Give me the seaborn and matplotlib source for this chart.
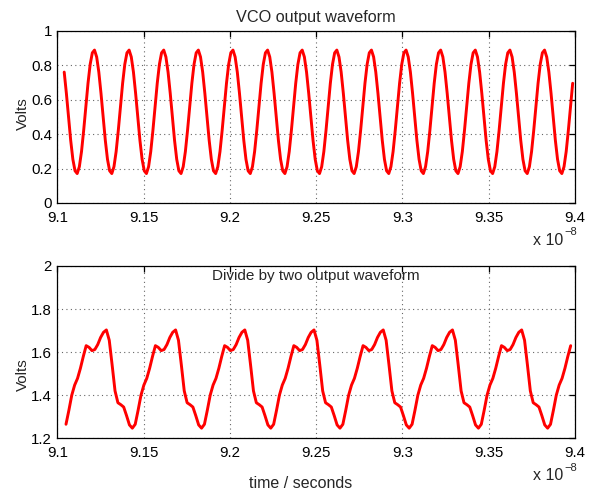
import numpy as np
import pandas as pd
import matplotlib
matplotlib.use("Agg")
import matplotlib.pyplot as plt
from matplotlib.ticker import FuncFormatter
import seaborn as sns

# Time axis is in units of 1e-8 s; both traces are uniformly sampled
vco_t0, vco_dt = 9.1039, 0.0012544
vco_volts = [
    0.761, 0.638, 0.499, 0.364, 0.254, 0.187, 0.171, 0.211, 0.299, 0.422, 0.561, 0.696, 0.806, 0.873, 0.889, 0.849,
    0.761, 0.638, 0.499, 0.364, 0.254, 0.187, 0.171, 0.211, 0.299, 0.422, 0.561, 0.696, 0.806, 0.873, 0.889, 0.849,
    0.761, 0.638, 0.499, 0.364, 0.254, 0.187, 0.171, 0.211, 0.299, 0.422, 0.561, 0.696, 0.806, 0.873, 0.889, 0.849,
    0.761, 0.638, 0.499, 0.364, 0.254, 0.187, 0.171, 0.211, 0.299, 0.422, 0.561, 0.696, 0.806, 0.873, 0.889, 0.849,
    0.761, 0.638, 0.499, 0.364, 0.254, 0.187, 0.171, 0.211, 0.299, 0.422, 0.561, 0.696, 0.806, 0.873, 0.889, 0.849,
    0.761, 0.638, 0.499, 0.364, 0.254, 0.187, 0.171, 0.211, 0.299, 0.422, 0.561, 0.696, 0.806, 0.873, 0.889, 0.849,
    0.761, 0.638, 0.499, 0.364, 0.254, 0.187, 0.171, 0.211, 0.299, 0.422, 0.561, 0.696, 0.806, 0.873, 0.889, 0.849,
    0.761, 0.638, 0.499, 0.364, 0.254, 0.187, 0.171, 0.211, 0.299, 0.422, 0.561, 0.696, 0.806, 0.873, 0.889, 0.849,
    0.761, 0.638, 0.499, 0.364, 0.254, 0.187, 0.171, 0.211, 0.299, 0.422, 0.561, 0.696, 0.806, 0.873, 0.889, 0.849,
    0.761, 0.638, 0.499, 0.364, 0.254, 0.187, 0.171, 0.211, 0.299, 0.422, 0.561, 0.696, 0.806, 0.873, 0.889, 0.849,
    0.761, 0.638, 0.499, 0.364, 0.254, 0.187, 0.171, 0.211, 0.299, 0.422, 0.561, 0.696, 0.806, 0.873, 0.889, 0.849,
    0.761, 0.638, 0.499, 0.364, 0.254, 0.187, 0.171, 0.211, 0.299, 0.422, 0.561, 0.696, 0.806, 0.873, 0.889, 0.849,
    0.761, 0.638, 0.499, 0.364, 0.254, 0.187, 0.171, 0.211, 0.299, 0.422, 0.561, 0.696, 0.806, 0.873, 0.889, 0.849,
    0.761, 0.638, 0.499, 0.364, 0.254, 0.187, 0.171, 0.211, 0.299, 0.422, 0.561, 0.696, 0.806, 0.873, 0.889, 0.849,
    0.761, 0.638, 0.499, 0.364, 0.254, 0.187, 0.171, 0.211, 0.299, 0.422, 0.561, 0.696,
]

div_t0, div_dt = 9.10494, 0.001672
div_volts = [
    1.265, 1.330, 1.400, 1.447, 1.478, 1.525, 1.580, 1.630, 1.622, 1.607, 1.612, 1.635,
    1.668, 1.692, 1.703, 1.655, 1.540, 1.420, 1.365, 1.356, 1.345, 1.305, 1.262,
    1.247, 1.265, 1.330, 1.400, 1.447, 1.478, 1.525, 1.580, 1.630, 1.622, 1.607, 1.612,
    1.635, 1.668, 1.692, 1.703, 1.655, 1.540, 1.420, 1.365, 1.356, 1.345, 1.305, 1.262,
    1.247, 1.265, 1.330, 1.400, 1.447, 1.478, 1.525, 1.580, 1.630, 1.622, 1.607, 1.612,
    1.635, 1.668, 1.692, 1.703, 1.655, 1.540, 1.420, 1.365, 1.356, 1.345, 1.305, 1.262,
    1.247, 1.265, 1.330, 1.400, 1.447, 1.478, 1.525, 1.580, 1.630, 1.622, 1.607, 1.612,
    1.635, 1.668, 1.692, 1.703, 1.655, 1.540, 1.420, 1.365, 1.356, 1.345, 1.305, 1.262,
    1.247, 1.265, 1.330, 1.400, 1.447, 1.478, 1.525, 1.580, 1.630, 1.622, 1.607, 1.612,
    1.635, 1.668, 1.692, 1.703, 1.655, 1.540, 1.420, 1.365, 1.356, 1.345, 1.305, 1.262,
    1.247, 1.265, 1.330, 1.400, 1.447, 1.478, 1.525, 1.580, 1.630, 1.622, 1.607, 1.612,
    1.635, 1.668, 1.692, 1.703, 1.655, 1.540, 1.420, 1.365, 1.356, 1.345, 1.305, 1.262,
    1.247, 1.265, 1.330, 1.400, 1.447, 1.478, 1.525, 1.580, 1.630, 1.622, 1.607, 1.612,
    1.635, 1.668, 1.692, 1.703, 1.655, 1.540, 1.420, 1.365, 1.356, 1.345, 1.305, 1.262,
    1.247, 1.265, 1.330, 1.400, 1.447, 1.478, 1.525, 1.580, 1.630,
]

x_ticks = [9.1, 9.15, 9.2, 9.25, 9.3, 9.35, 9.4]
vco_yticks = [0, 0.2, 0.4, 0.6, 0.8, 1]
div_yticks = [1.2, 1.4, 1.6, 1.8, 2]

vco = pd.DataFrame({"t": vco_t0 + vco_dt * np.arange(len(vco_volts)), "v": vco_volts})
div = pd.DataFrame({"t": div_t0 + div_dt * np.arange(len(div_volts)), "v": div_volts})

sns.set_theme(style="white")
plt.rcParams["font.family"] = ["Liberation Sans", "DejaVu Sans"]
plt.rcParams["axes.edgecolor"] = "black"
plt.rcParams["axes.linewidth"] = 0.9

fig = plt.figure(figsize=(5.95, 4.94), dpi=100)
ax1 = fig.add_axes([0.0966, 0.5891, 0.8697, 0.3482])
ax2 = fig.add_axes([0.0966, 0.1128, 0.8697, 0.3488])

fmt = FuncFormatter(lambda v, p: f"{v:g}")

def style(ax, yticks):
    ax.set_xlim(9.1, 9.4)
    ax.set_ylim(yticks[0], yticks[-1])
    ax.set_xticks(x_ticks)
    ax.set_yticks(yticks)
    ax.xaxis.set_major_formatter(fmt)
    ax.yaxis.set_major_formatter(fmt)
    ax.grid(True, linestyle=(0, (1, 3)), color="0.4", linewidth=0.8)
    ax.tick_params(direction="in", length=4, width=0.9, top=True, right=True,
                   labelsize=10.8, colors="black", pad=4)
    ax.tick_params(axis="x", pad=5.5)
    ax.set_xlabel("")
    ax.set_ylabel("")
    for s in ax.spines.values():
        s.set_visible(True)
        s.set_color("black")

for ax, d, yt in [(ax1, vco, vco_yticks), (ax2, div, div_yticks)]:
    sns.lineplot(data=d, x="t", y="v", ax=ax, color="#ff0000", linewidth=2.1,
                 estimator=None, sort=False)
    style(ax, yt)

ax1.text(0.5, 1.054, "VCO output waveform", transform=ax1.transAxes,
         ha="center", va="baseline", fontsize=11.7)
ax2.text(0.5, 0.919, "Divide by two output waveform", transform=ax2.transAxes,
         ha="center", va="baseline", fontsize=11)

for ax, yc in ((ax1, 0.520), (ax2, 0.367)):
    ax.text(-0.0676, yc, "Volts", transform=ax.transAxes, rotation=90,
            ha="center", va="center", fontsize=11,
            family=["Liberation Sans Narrow", "Liberation Sans", "DejaVu Sans"])
    ax.text(0.9768, -0.218, "x 10", transform=ax.transAxes,
            ha="right", va="center", fontsize=11.5)
    ax.text(0.9797, -0.170, "\u22128", transform=ax.transAxes,
            ha="left", va="center", fontsize=8)

ax2.text(0.4705, -0.290, "time / seconds", transform=ax2.transAxes,
         ha="center", va="baseline", fontsize=11.5)

fig.savefig("out.png", dpi=100)
